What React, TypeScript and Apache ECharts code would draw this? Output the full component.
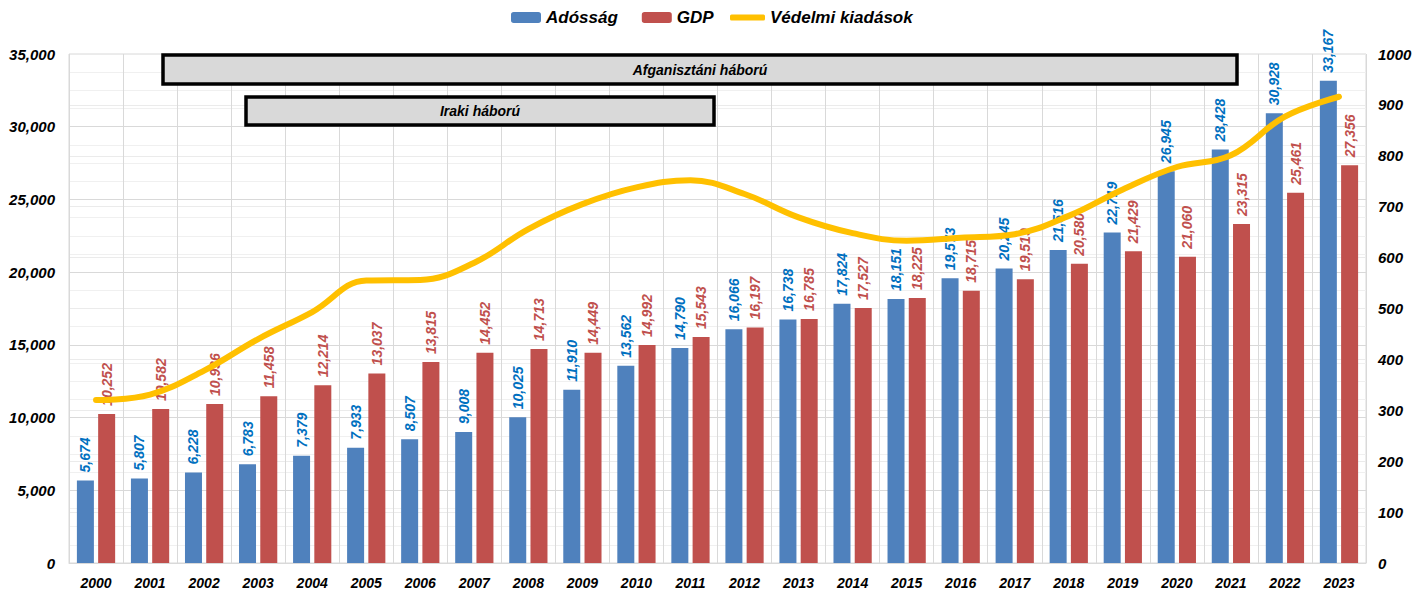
import React, { useEffect, useRef } from "react";
import * as echarts from "echarts";

const years = ["2000","2001","2002","2003","2004","2005","2006","2007","2008","2009","2010","2011","2012","2013","2014","2015","2016","2017","2018","2019","2020","2021","2022","2023"];
const debt = [5674,5807,6228,6783,7379,7933,8507,9008,10025,11910,13562,14790,16066,16738,17824,18151,19573,20245,21516,22719,26945,28428,30928,33167];
const gdp = [10252,10582,10936,11458,12214,13037,13815,14452,14713,14449,14992,15543,16197,16785,17527,18225,18715,19519,20580,21429,21060,23315,25461,27356];
const defense = [320,331,378,440,493,555,556,590,656,705,738,752,725,679,648,633,639,646,682,734,778,801,877,916];

const FONT = "'Liberation Sans', Arial, sans-serif";

export default function App() {
  const ref = useRef<HTMLDivElement>(null);
  useEffect(() => {
    if (!ref.current) return;
    const chart = echarts.init(ref.current, undefined, { renderer: "svg" });
    const labelBase = {
      show: true,
      position: "top" as const,
      rotate: 90,
      align: "left" as const,
      verticalAlign: "middle" as const,
      distance: 8,
      fontFamily: FONT,
      fontWeight: "bold" as const,
      fontStyle: "italic" as const,
      fontSize: 14,
      formatter: (p: any) => Number(p.value).toLocaleString("en-US"),
    };
    const legendText = { fontFamily: FONT, fontWeight: "bold", fontStyle: "italic", fontSize: 17, color: "#000" };
    const boxText = (t: string, x: number, y: number) => ({
      type: "text",
      z: 102,
      x,
      y,
      silent: true,
      style: {
        text: t, fontFamily: FONT, fontWeight: "bold", fontStyle: "italic", fontSize: 14,
        fill: "#000", stroke: "none", lineWidth: 0, align: "center", verticalAlign: "middle",
      },
    });
    chart.setOption({
      animation: false,
      backgroundColor: "#ffffff",
      legend: [
        {
          top: 4,
          left: 506,
          itemWidth: 30,
          itemHeight: 11,
          itemGap: 24,
          textStyle: legendText,
          data: ["Adósság", "GDP"],
        },
        {
          top: 4,
          left: 725,
          itemWidth: 35,
          itemHeight: 6,
          textStyle: legendText,
          data: [{ name: "Védelmi kiadások", icon: "roundRect" }],
        },
      ],
      grid: { left: 69, right: 62, top: 54, bottom: 31, show: true, borderColor: "#D9D9D9", borderWidth: 1 },
      xAxis: {
        type: "category",
        data: years,
        axisLine: { show: true, lineStyle: { color: "#D9D9D9" } },
        axisTick: { show: false },
        splitLine: { show: true, interval: 0, lineStyle: { color: "#D9D9D9", width: 1 } },
        axisLabel: { fontFamily: FONT, fontWeight: "bold", fontStyle: "italic", fontSize: 14, color: "#000", margin: 13, interval: 0 },
      },
      yAxis: [
        {
          type: "value",
          min: 0,
          max: 35000,
          interval: 5000,
          axisLine: { show: false },
          axisTick: { show: false },
          splitLine: { show: true, lineStyle: { color: "#D9D9D9" } },
          minorTick: { show: false, splitNumber: 4 },
          minorSplitLine: { show: true, lineStyle: { color: "#F0F0F0" } },
          axisLabel: {
            fontFamily: FONT, fontWeight: "bold", fontStyle: "italic", fontSize: 15, color: "#000", margin: 14,
            formatter: (v: number) => v.toLocaleString("en-US"),
          },
        },
        {
          type: "value",
          min: 0,
          max: 1000,
          interval: 100,
          axisLine: { show: false },
          axisTick: { show: false },
          splitLine: { show: true, lineStyle: { color: "#EBEBEB" } },
          axisLabel: {
            fontFamily: FONT, fontWeight: "bold", fontStyle: "italic", fontSize: 15, color: "#000", margin: 12,
            formatter: (v: number) => String(v),
          },
        },
      ],
      series: [
        {
          name: "Adósság",
          type: "bar",
          data: debt,
          barWidth: 17,
          barGap: "25%",
          itemStyle: { color: "#4F81BD" },
          label: { ...labelBase, color: "#0070C0" },
        },
        {
          name: "GDP",
          type: "bar",
          data: gdp,
          barWidth: 17,
          itemStyle: { color: "#C0504D" },
          label: { ...labelBase, color: "#C0504D" },
        },
        {
          name: "Védelmi kiadások",
          type: "line",
          yAxisIndex: 1,
          data: defense,
          smooth: 0.4,
          symbol: "none",
          showSymbol: false,
          lineStyle: { color: "#FFC000", width: 6, cap: "round" },
          itemStyle: { color: "#FFC000" },
          z: 5,
        },
      ],
      graphic: [
        {
          type: "rect",
          z: 100,
          silent: true,
          shape: { x: 163, y: 55, width: 1074, height: 29 },
          style: { fill: "#D9D9D9", stroke: "#000", lineWidth: 3.5 },
        },
        boxText("Afganisztáni háború", 700, 70),
        {
          type: "rect",
          z: 100,
          silent: true,
          shape: { x: 246, y: 97, width: 468, height: 28 },
          style: { fill: "#D9D9D9", stroke: "#000", lineWidth: 3.5 },
        },
        boxText("Iraki háború", 480, 111),
      ],
    });
    return () => chart.dispose();
  }, []);
  return <div ref={ref} style={{ position: "absolute", left: 0, top: 0, width: 1428, height: 594 }} />;
}
